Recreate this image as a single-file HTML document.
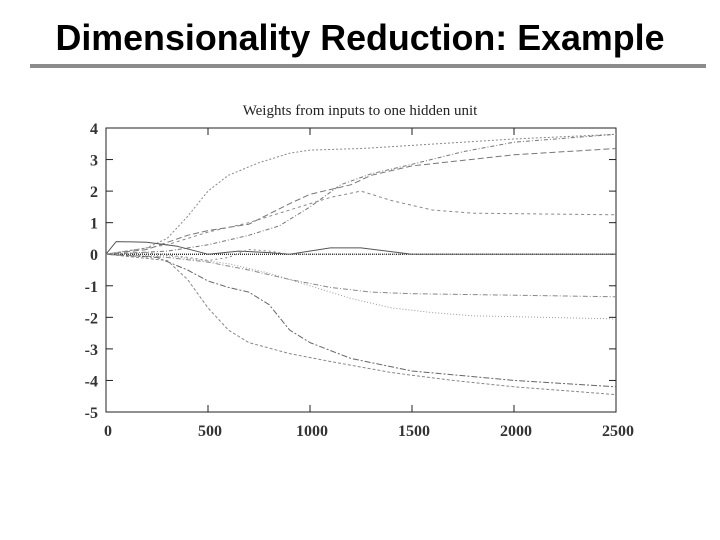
<!DOCTYPE html>
<html><head><meta charset="utf-8"><style>
body{margin:0;width:720px;height:540px;background:#fff;overflow:hidden;position:relative}
#title{position:absolute;left:0;width:720px;top:20px;line-height:36px;text-align:center;font:bold 36px/36px "Liberation Sans",sans-serif;color:#000;transform:scaleX(0.995)}
#rule{position:absolute;left:30px;top:64px;width:676px;height:4px;background:#8c8c8c}
svg{position:absolute;left:0;top:0}
</style></head><body>
<div id="title">Dimensionality Reduction: Example</div>
<div id="rule"></div>
<svg id="chart" width="720" height="540"></svg>
<script>
const xTicks=[0,500,1000,1500,2000,2500];
const yTicks=[4,3,2,1,0,-1,-2,-3,-4,-5];
const yTickLabels=["4","3","2","1","0","-1","-2","-3","-4","-5"];
const sA=[[0,0],[200,0.2],[300,0.5],[400,1.2],[500,2.0],[600,2.5],[750,2.9],[900,3.2],[1000,3.3],[1250,3.35],[1500,3.45],[2000,3.65],[2500,3.8]];
const sB=[[0,0],[300,0.1],[500,0.3],[700,0.6],[850,0.9],[1000,1.5],[1150,2.2],[1300,2.55],[1500,2.85],[1750,3.25],[2000,3.55],[2500,3.8]];
const sC=[[0,0],[200,0.15],[400,0.6],[500,0.75],[700,0.95],[900,1.6],[1000,1.9],[1100,2.05],[1200,2.2],[1300,2.5],[1500,2.8],[2000,3.15],[2500,3.35]];
const sD=[[0,0],[300,0.3],[500,0.7],[700,1.0],[900,1.4],[1100,1.8],[1250,2.0],[1400,1.7],[1600,1.4],[1800,1.3],[2500,1.25]];
const sE=[[0,0],[50,0.4],[200,0.38],[350,0.25],[500,0],[650,0.1],[800,0.05],[900,0],[1100,0.2],[1250,0.2],[1500,0],[2500,0]];
const sF=[[0,0],[200,0.05],[400,-0.1],[500,-0.2],[600,-0.1],[700,0.15],[800,0.1],[900,0],[2500,0]];
const sG=[[0,0],[300,-0.1],[500,-0.25],[700,-0.5],[900,-0.8],[1100,-1.05],[1300,-1.2],[1500,-1.25],[2000,-1.3],[2500,-1.35]];
const sH=[[0,0],[300,-0.05],[600,-0.3],[800,-0.6],[1000,-1.0],[1200,-1.4],[1400,-1.7],[1600,-1.85],[1800,-1.95],[2500,-2.05]];
const sI=[[0,0],[250,-0.1],[400,-0.5],[500,-0.85],[600,-1.05],[700,-1.2],[800,-1.6],[900,-2.4],[1000,-2.8],[1200,-3.3],[1500,-3.7],[2000,-4.0],[2500,-4.2]];
const sJ=[[0,0],[300,-0.2],[400,-0.8],[500,-1.7],[600,-2.4],[700,-2.8],[900,-3.15],[1100,-3.4],[1400,-3.75],[1700,-4.0],[2000,-4.2],[2500,-4.45]];
const series=[sA,sB,sC,sD,sE,sF,sG,sH,sI,sJ];
const dashes=["2,2","4,2,1,2","6,3","3,3","none","2,3","5,2,1,2","1,2","6,2,2,2","3,2"];
const colors=["#888","#777","#777","#888","#555","#888","#888","#999","#666","#888"];
const L=106,R=616,T=128,B=412;
const X=v=>L+(v-0)/2500*(R-L);
const Y=v=>T+(4-v)/9*(B-T);
const svg=document.getElementById('chart');
const NS='http://www.w3.org/2000/svg';
function mk(t,a){const e=document.createElementNS(NS,t);for(const k in a)e.setAttribute(k,a[k]);svg.appendChild(e);return e;}
let t=mk('text',{x:360,y:115,'text-anchor':'middle','font-family':'Liberation Serif,serif','font-size':15,fill:'#222'});
t.textContent='Weights from inputs to one hidden unit';


let fr=mk('rect',{x:L,y:T,width:R-L,height:B-T,fill:'none',stroke:'#222','stroke-width':1});


yTicks.forEach((v,i)=>{
  mk('line',{x1:L,x2:L+7,y1:Y(v),y2:Y(v),stroke:'#222'});
  mk('line',{x1:R-7,x2:R,y1:Y(v),y2:Y(v),stroke:'#222'});
  const tx=mk('text',{x:98,y:Y(v)+6,'text-anchor':'end','font-family':'Liberation Serif,serif','font-size':16,'font-weight':'bold',fill:'#333'});
  tx.textContent=yTickLabels[i];
  
  
});
xTicks.forEach(v=>{
  mk('line',{x1:X(v),x2:X(v),y1:B,y2:B-7,stroke:'#222'});
  mk('line',{x1:X(v),x2:X(v),y1:T,y2:T+7,stroke:'#222'});
  const tx=mk('text',{x:X(v)+2,y:436,'text-anchor':'middle','font-family':'Liberation Serif,serif','font-size':16,'font-weight':'bold',fill:'#333'});
  tx.textContent=String(v);
  
  
});
let z=mk('line',{x1:L,x2:R,y1:Y(0),y2:Y(0),stroke:'#111','stroke-width':1.2,'stroke-dasharray':'1,1'});


series.forEach((s,i)=>{
  const d=s.map((p,j)=>(j?'L':'M')+X(p[0]).toFixed(1)+','+Y(p[1]).toFixed(1)).join(' ');
  const p=mk('path',{d:d,fill:'none',stroke:colors[i],'stroke-width':1,'stroke-dasharray':dashes[i],'stroke-linejoin':'round'});
  
  
});
</script>
</body></html>
